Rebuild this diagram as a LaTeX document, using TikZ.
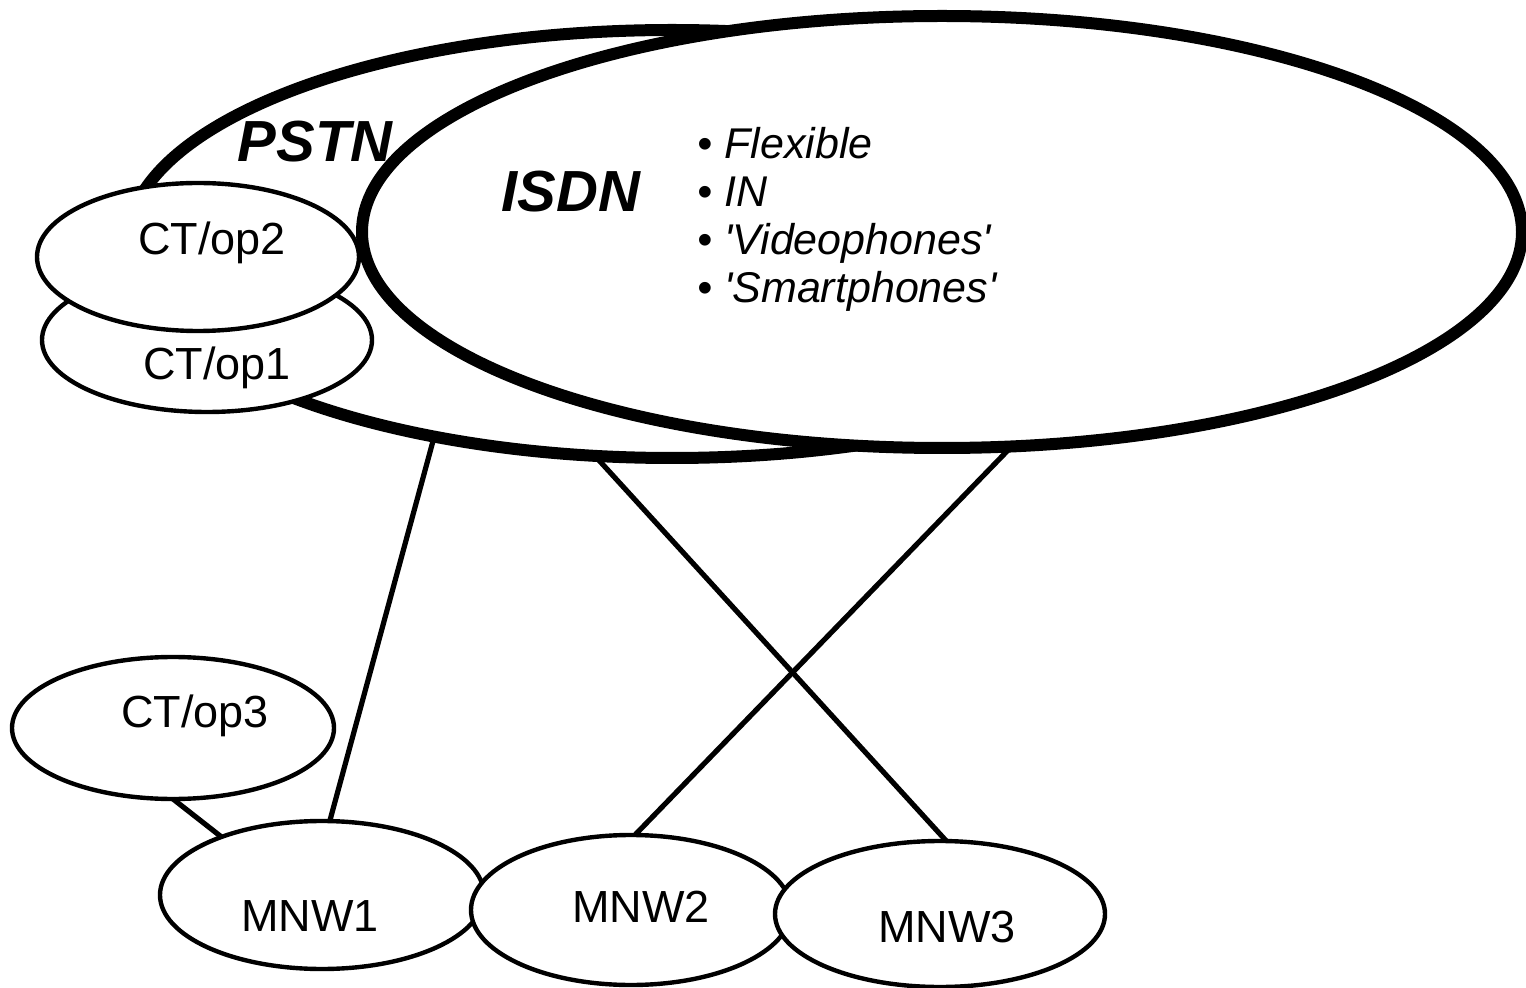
\documentclass[tikz,border=0pt]{standalone}
\usepackage{fontspec}
\setmainfont{Liberation Sans}
\usetikzlibrary{shapes.geometric}
\begin{document}
\begin{tikzpicture}[x=0.5pt,y=-0.5pt,
  bigell/.style={ellipse, draw, line width=6pt, inner sep=0pt, outer sep=0pt},
  smallell/.style={ellipse, draw, fill=white, line width=2.2pt, inner sep=0pt, outer sep=0pt},
  conn/.style={line width=2.6pt},
  lbl/.style={font=\fontsize{22.5}{26}\selectfont, inner sep=0pt, anchor=base},
  netlbl/.style={font=\fontsize{29}{34}\selectfont\bfseries\itshape, inner sep=0pt, anchor=base}]
\useasboundingbox[fill=white] (0,0) rectangle (1526,988);
% big networks
\node[bigell, minimum width=545pt, minimum height=214pt] (pstn) at (672,244) {};
\node[bigell, fill=white, minimum width=580pt, minimum height=216pt] (isdn) at (942,232) {};
% small ellipses
\node[smallell, minimum width=165pt, minimum height=72pt] (op1) at (207,340) {};
\node[smallell, minimum width=161pt, minimum height=74pt] (op2) at (198,257) {};
\node[smallell, minimum width=161pt, minimum height=71pt] (op3) at (173,728) {};
\node[smallell, minimum width=162pt, minimum height=74pt] (mnw1) at (322,895) {};
\node[smallell, minimum width=160pt, minimum height=75pt] (mnw2) at (631,910) {};
\node[smallell, minimum width=165pt, minimum height=73pt] (mnw3) at (940,914) {};
% connectors
\draw[conn] (pstn.219.5) -- (mnw1.84);
\draw[conn] (pstn.250.5) -- (mnw3.85.3);
\draw[conn] (isdn.288.1) -- (mnw2.87);
\draw[conn] (op3.270) -- (mnw1.150);
% labels
\node[netlbl] (tpstn) at (315,162) {PSTN};
\node[netlbl] (tisdn) at (571,212) {ISDN};
\node[anchor=north west, align=left, inner sep=0pt,
      font=\fontsize{21.5}{24}\selectfont\itshape] (tlist) at (697,127)
  {• Flexible\\• IN\\• \textquotesingle Videophones\textquotesingle\\• \textquotesingle Smartphones\textquotesingle};
\node[lbl] (t2) at (212,255) {CT/op2};
\node[lbl] (t1) at (217,380) {CT/op1};
\node[lbl] (t3) at (195,727) {CT/op3};
\node[lbl] (tm1) at (310,931) {MNW1};
\node[lbl] (tm2) at (641,922) {MNW2};
\node[lbl] (tm3) at (947,942) {MNW3};
\end{tikzpicture}
\end{document}
